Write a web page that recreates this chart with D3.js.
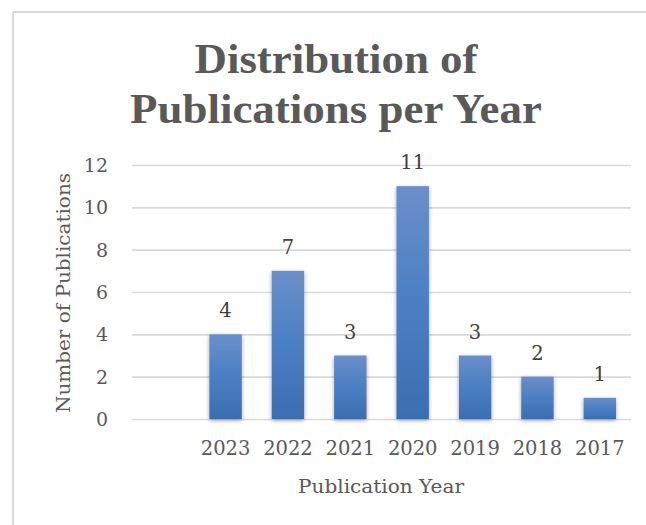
<!DOCTYPE html>
<html><head><meta charset="utf-8">
<script src="https://cdn.jsdelivr.net/npm/d3@7"></script>
<style>html,body{margin:0;padding:0;background:#fff;}svg{display:block;}</style>
</head><body>
<svg id="chart" width="646" height="525"></svg>
<script>
const categories = ["", "2023", "2022", "2021", "2020", "2019", "2018", "2017"];
const values = [null, 4, 7, 3, 11, 3, 2, 1];
const yTicks = [0, 2, 4, 6, 8, 10, 12];
const titleLines = ["Distribution of", "Publications per Year"];
const xTitle = "Publication Year";
const yTitle = "Number of Publications";

const svg = d3.select("#chart");
const W = 646, H = 525;
const plot = {left: 132, right: 631, top: 165, bottom: 419};
const textColor = "#595959";
const serif = "'DejaVu Serif', serif";

svg.append("rect").attr("x", 0).attr("y", 0).attr("width", W).attr("height", H).attr("fill", "#fff");
svg.append("rect").attr("x", 13).attr("y", 12).attr("width", 800).attr("height", 800)
  .attr("fill", "none").attr("stroke", "#d9d9d9").attr("stroke-width", 2);

const defs = svg.append("defs");
const grad = defs.append("linearGradient").attr("id", "barGrad").attr("x1", 0).attr("y1", 0).attr("x2", 0).attr("y2", 1);
grad.append("stop").attr("offset", "0%").attr("stop-color", "#6a8fc9");
grad.append("stop").attr("offset", "50%").attr("stop-color", "#4a7fc3");
grad.append("stop").attr("offset", "100%").attr("stop-color", "#3b6eb1");
const f = defs.append("filter").attr("id", "shadow").attr("x", "-40%").attr("y", "-20%").attr("width", "180%").attr("height", "140%");
f.append("feDropShadow").attr("dx", 0).attr("dy", 1.5).attr("stdDeviation", 2).attr("flood-color", "#000").attr("flood-opacity", 0.35);

// Title
const titleG = svg.append("g");
const titleWidths = [283, 412];
const titleBase = [73, 123];
titleLines.forEach((t, i) => {
  titleG.append("text").attr("x", 336).attr("y", titleBase[i])
    .attr("text-anchor", "middle")
    .attr("font-family", "'Liberation Serif', serif").attr("font-weight", "bold")
    .attr("font-size", 43).attr("fill", textColor)
    .attr("textLength", titleWidths[i]).attr("lengthAdjust", "spacingAndGlyphs")
    .text(t);
});

const x = d3.scaleBand().domain(categories).range([plot.left, plot.right]).paddingInner(0.48).paddingOuter(0.24);
const y = d3.scaleLinear().domain([0, 12]).range([plot.bottom, plot.top]);

// gridlines
const yAxis = d3.axisLeft(y).tickValues(yTicks).tickSize(-(plot.right - plot.left)).tickPadding(24);
const gy = svg.append("g").attr("transform", `translate(${plot.left},0)`).call(yAxis);
gy.select(".domain").remove();
gy.selectAll(".tick line").attr("stroke", "#d9d9d9").attr("stroke-width", 1.6);
gy.selectAll(".tick text").attr("font-family", serif).attr("font-size", 19).attr("fill", textColor).attr("dy", "0.34em");

// x axis
const xAxis = d3.axisBottom(x).tickSize(0).tickPadding(22);
const gx = svg.append("g").attr("transform", `translate(0,${plot.bottom})`).call(xAxis);
gx.select(".domain").remove();
gx.selectAll(".tick text").attr("font-family", serif).attr("font-size", 19.5).attr("fill", textColor).attr("dy", "0.71em");

// bars
const data = categories.map((c, i) => ({c, v: values[i]})).filter(d => d.v != null);
svg.append("g").selectAll("rect").data(data).join("rect")
  .attr("x", d => x(d.c)).attr("width", x.bandwidth())
  .attr("y", d => y(d.v)).attr("height", d => y(0) - y(d.v))
  .attr("fill", "url(#barGrad)").attr("filter", "url(#shadow)");

// data labels
svg.append("g").selectAll("text").data(data).join("text")
  .attr("x", d => x(d.c) + x.bandwidth() / 2).attr("y", d => y(d.v) - 17)
  .attr("text-anchor", "middle").attr("font-family", serif).attr("font-size", 19.5)
  .attr("fill", "#404040").text(d => d.v);

// axis titles
svg.append("text").attr("x", 381).attr("y", 493).attr("text-anchor", "middle")
  .attr("font-family", serif).attr("font-size", 18.5).attr("fill", textColor)
  .attr("textLength", 166).attr("lengthAdjust", "spacingAndGlyphs").text(xTitle);
svg.append("text").attr("transform", "translate(70,293) rotate(-90)").attr("text-anchor", "middle")
  .attr("font-family", serif).attr("font-size", 18.5).attr("fill", textColor)
  .attr("textLength", 240).attr("lengthAdjust", "spacingAndGlyphs").text(yTitle);
</script>
</body></html>
